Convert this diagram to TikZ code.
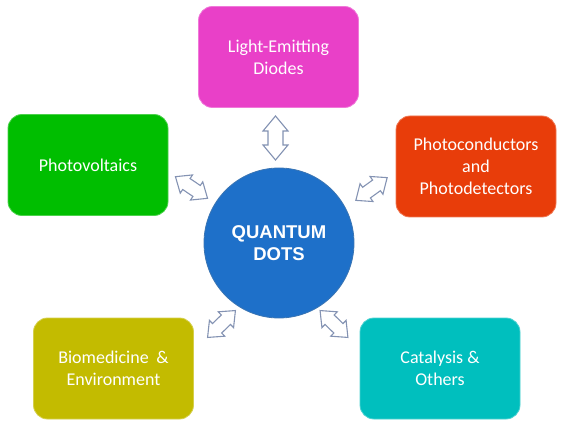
\documentclass[tikz,border=0pt]{standalone}
\usepackage{fontspec}
\setmainfont{Carlito}
\newfontfamily\qfont{Liberation Sans}
\usetikzlibrary{positioning}
\definecolor{cpink}{HTML}{E940C8}
\definecolor{cgreen}{HTML}{00BE00}
\definecolor{corange}{HTML}{E83D0A}
\definecolor{colive}{HTML}{C3BB00}
\definecolor{ccyan}{HTML}{00BFBE}
\definecolor{cblue}{HTML}{1E70C9}
\definecolor{carrow}{HTML}{8493B3}
\begin{document}
\begin{tikzpicture}[x=1pt,y=-1pt,
  appbox/.style={rounded corners=14pt, fill=#1, draw=#1!70!white, line width=0.8pt,
    minimum width=160pt, minimum height=101pt, inner sep=0pt, align=center,
    text=white, font=\fontsize{18}{22}\selectfont},
  arrowline/.style={draw=carrow, fill=white, line width=1.1pt, line join=miter},
  dblarrow/.pic={\path[arrowline] (-22,0) -- (-7,-12.5) -- (-7,-7.5) -- (7,-7.5) -- (7,-12.5)
      -- (22,0) -- (7,12.5) -- (7,7.5) -- (-7,7.5) -- (-7,12.5) -- cycle;}
]
\useasboundingbox (0,0) rectangle (563,441);
\node[appbox=cpink]   (led)  at (278.5,57)  {Light-Emitting\\Diodes};
\node[appbox=cgreen]  (pv)   at (88,165)    {Photovoltaics};
\node[appbox=corange] (pd)   at (476,166.5) {Photoconductors\\and\\Photodetectors};
\node[appbox=colive]  (bio)  at (113.5,368.5) {Biomedicine\hspace{0.2em} \&\\Environment};
\node[appbox=ccyan]   (cat)  at (440,368.5) {Catalysis \&\\Others};
\node[circle, fill=cblue, draw=cblue!70!gray, line width=0.8pt, minimum size=150pt,
      inner sep=0pt, align=center, text=white,
      font=\qfont\bfseries\fontsize{18.5}{22}\selectfont] (qd) at (279,243) {QUANTUM\\DOTS};
\pic (aled) at (275.5,138) [rotate=90] {dblarrow};
\pic (apv)  at (191.5,187.5) [rotate=-34, scale=0.88] {dblarrow};
\pic (apd)  at (371.5,189) [rotate=36, scale=0.88] {dblarrow};
\pic (abio) at (221.5,324) [rotate=44, scale=0.88] {dblarrow};
\pic (acat) at (334,324) [rotate=-44, scale=0.88] {dblarrow};
\end{tikzpicture}
\end{document}
